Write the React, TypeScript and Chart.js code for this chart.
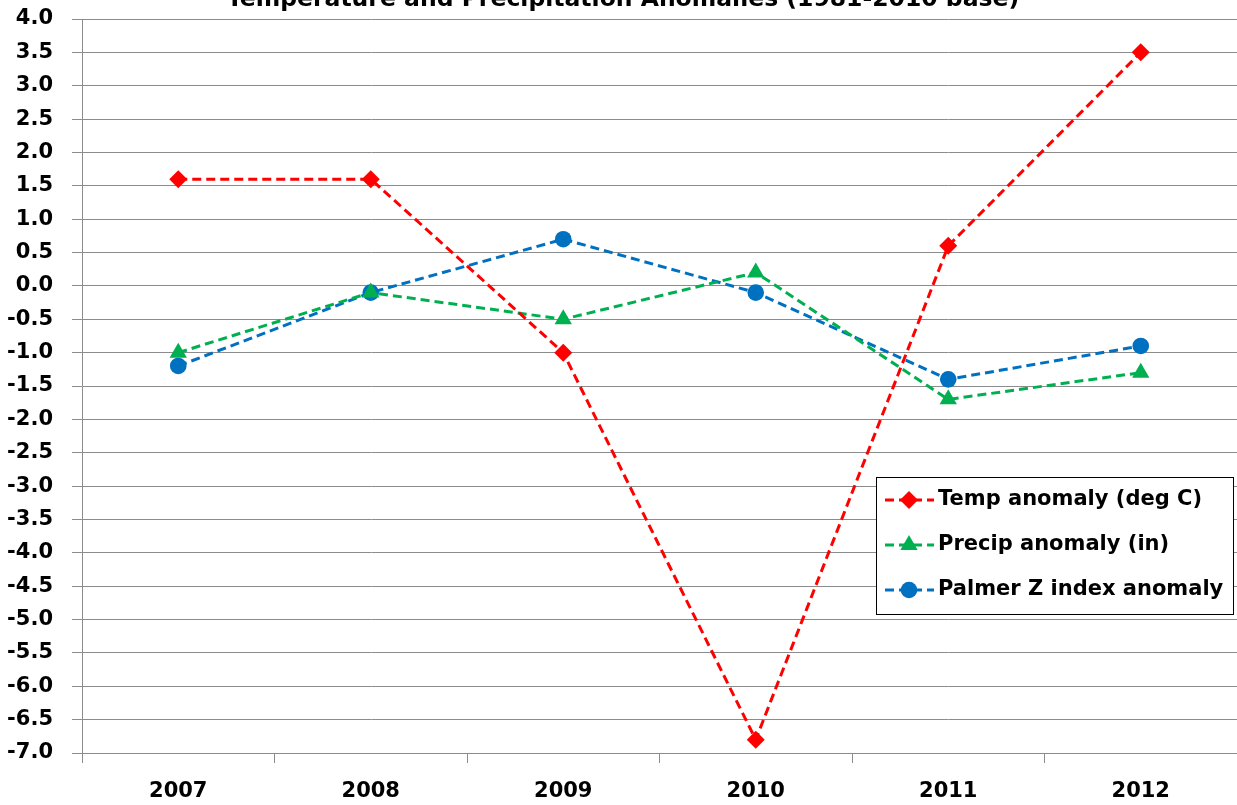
import React, { useEffect, useRef } from 'react';
import { Chart, registerables } from 'chart.js';

Chart.register(...registerables);

const TITLE = 'Temperature and Precipitation Anomalies (1981-2010 base)';
const years = ['2007', '2008', '2009', '2010', '2011', '2012'];
const tempAnomaly = [1.6, 1.6, -1.0, -6.8, 0.6, 3.5];
const precipAnomaly = [-1.0, -0.1, -0.5, 0.2, -1.7, -1.3];
const palmerAnomaly = [-1.2, -0.1, 0.7, -0.1, -1.4, -0.9];
const seriesNames = ['Temp anomaly (deg C)', 'Precip anomaly (in)', 'Palmer Z index anomaly'];
const Y_MIN = -7;
const Y_MAX = 4;
const Y_STEP = 0.5;

const FONT = '"DejaVu Sans", sans-serif';
const GRID = '#8c8c8c';

function drawMarker(ctx: CanvasRenderingContext2D, style: string, x: number, y: number, r: number, color: string) {
  ctx.save();
  ctx.fillStyle = color;
  ctx.beginPath();
  if (style === 'rectRot') {
    ctx.moveTo(x, y - r);
    ctx.lineTo(x + r, y);
    ctx.lineTo(x, y + r);
    ctx.lineTo(x - r, y);
    ctx.closePath();
  } else if (style === 'triangle') {
    const s = r * Math.sin(Math.PI / 3);
    ctx.moveTo(x, y - r);
    ctx.lineTo(x + s, y + r / 2);
    ctx.lineTo(x - s, y + r / 2);
    ctx.closePath();
  } else {
    ctx.arc(x, y, r, 0, Math.PI * 2);
  }
  ctx.fill();
  ctx.restore();
}

const titlePlugin = {
  id: 'cutTitle',
  afterDraw(chart: any) {
    const ctx = chart.ctx as CanvasRenderingContext2D;
    ctx.save();
    ctx.font = `bold 23.5px ${FONT}`;
    ctx.fillStyle = '#000';
    ctx.textAlign = 'center';
    ctx.textBaseline = 'alphabetic';
    ctx.fillText(TITLE, 623, 6);
    ctx.restore();
  },
};

const legendPlugin = {
  id: 'boxLegend',
  afterDraw(chart: any) {
    const ctx = chart.ctx as CanvasRenderingContext2D;
    const x0 = 876, y0 = 477, w = 357, h = 137;
    ctx.save();
    ctx.fillStyle = '#fff';
    ctx.fillRect(x0, y0, w, h);
    ctx.strokeStyle = '#000';
    ctx.lineWidth = 1;
    ctx.strokeRect(x0 + 0.5, y0 + 0.5, w, h);
    chart.data.datasets.forEach((ds: any, i: number) => {
      const cy = y0 + 23 + i * 45;
      ctx.strokeStyle = ds.borderColor;
      ctx.lineWidth = ds.borderWidth;
      ctx.setLineDash(ds.borderDash);
      ctx.beginPath();
      ctx.moveTo(885, cy);
      ctx.lineTo(934, cy);
      ctx.stroke();
      ctx.setLineDash([]);
      drawMarker(ctx, ds.pointStyle, 909, cy, ds.pointRadius, ds.borderColor);
      ctx.fillStyle = '#000';
      ctx.font = `bold 21px ${FONT}`;
      ctx.textAlign = 'left';
      ctx.textBaseline = 'middle';
      ctx.fillText(ds.label, 938, cy);
    });
    ctx.restore();
  },
};

export default function App() {
  const ref = useRef<HTMLCanvasElement | null>(null);
  useEffect(() => {
    document.body.style.margin = '0';
    const canvas = ref.current!;
    const common = {
      borderWidth: 3,
      borderDash: [9, 5],
      pointBorderWidth: 0,
      fill: false,
    };
    const chart = new Chart(canvas, {
      type: 'line',
      data: {
        labels: years,
        datasets: [
          {
            ...common,
            label: seriesNames[0],
            data: tempAnomaly,
            borderColor: '#ff0000',
            backgroundColor: '#ff0000',
            pointStyle: 'rectRot',
            pointRadius: 9,
          },
          {
            ...common,
            label: seriesNames[1],
            data: precipAnomaly,
            borderColor: '#00b050',
            backgroundColor: '#00b050',
            pointStyle: 'triangle',
            pointRadius: 10,
          },
          {
            ...common,
            label: seriesNames[2],
            data: palmerAnomaly,
            borderColor: '#0070c0',
            backgroundColor: '#0070c0',
            pointStyle: 'circle',
            pointRadius: 8.3,
          },
        ],
      },
      options: {
        responsive: false,
        animation: false,
        layout: { autoPadding: false, padding: { top: 19, right: 0, left: 0, bottom: 0 } },
        plugins: {
          legend: { display: false },
          title: { display: false },
          tooltip: { enabled: false },
        },
        scales: {
          x: {
            offset: true,
            grid: {
              offset: true,
              drawOnChartArea: false,
              drawTicks: true,
              tickLength: 10,
              color: GRID,
            },
            border: { color: GRID },
            ticks: {
              color: '#000',
              font: { family: FONT, size: 21, weight: 'bold' },
              padding: 16,
              maxRotation: 0,
            },
            afterFit(scale: any) {
              scale.height = 52;
              scale.paddingLeft = 0;
              scale.paddingRight = 0;
            },
          },
          y: {
            min: Y_MIN,
            max: Y_MAX,
            grid: {
              color: GRID,
              tickLength: 10,
            },
            border: { color: GRID },
            ticks: {
              stepSize: Y_STEP,
              color: '#000',
              font: { family: FONT, size: 21, weight: 'bold' },
              padding: 19,
              callback: (v: any) => Number(v).toFixed(1),
            },
            afterFit(scale: any) {
              scale.width = 82;
              scale.paddingTop = 0;
              scale.paddingBottom = 0;
            },
          },
        },
      },
      plugins: [titlePlugin, legendPlugin],
    });
    return () => chart.destroy();
  }, []);
  return (
    <div style={{ width: 1237, height: 805 }}>
      <canvas ref={ref} width={1237} height={805} style={{ display: 'block' }} />
    </div>
  );
}
